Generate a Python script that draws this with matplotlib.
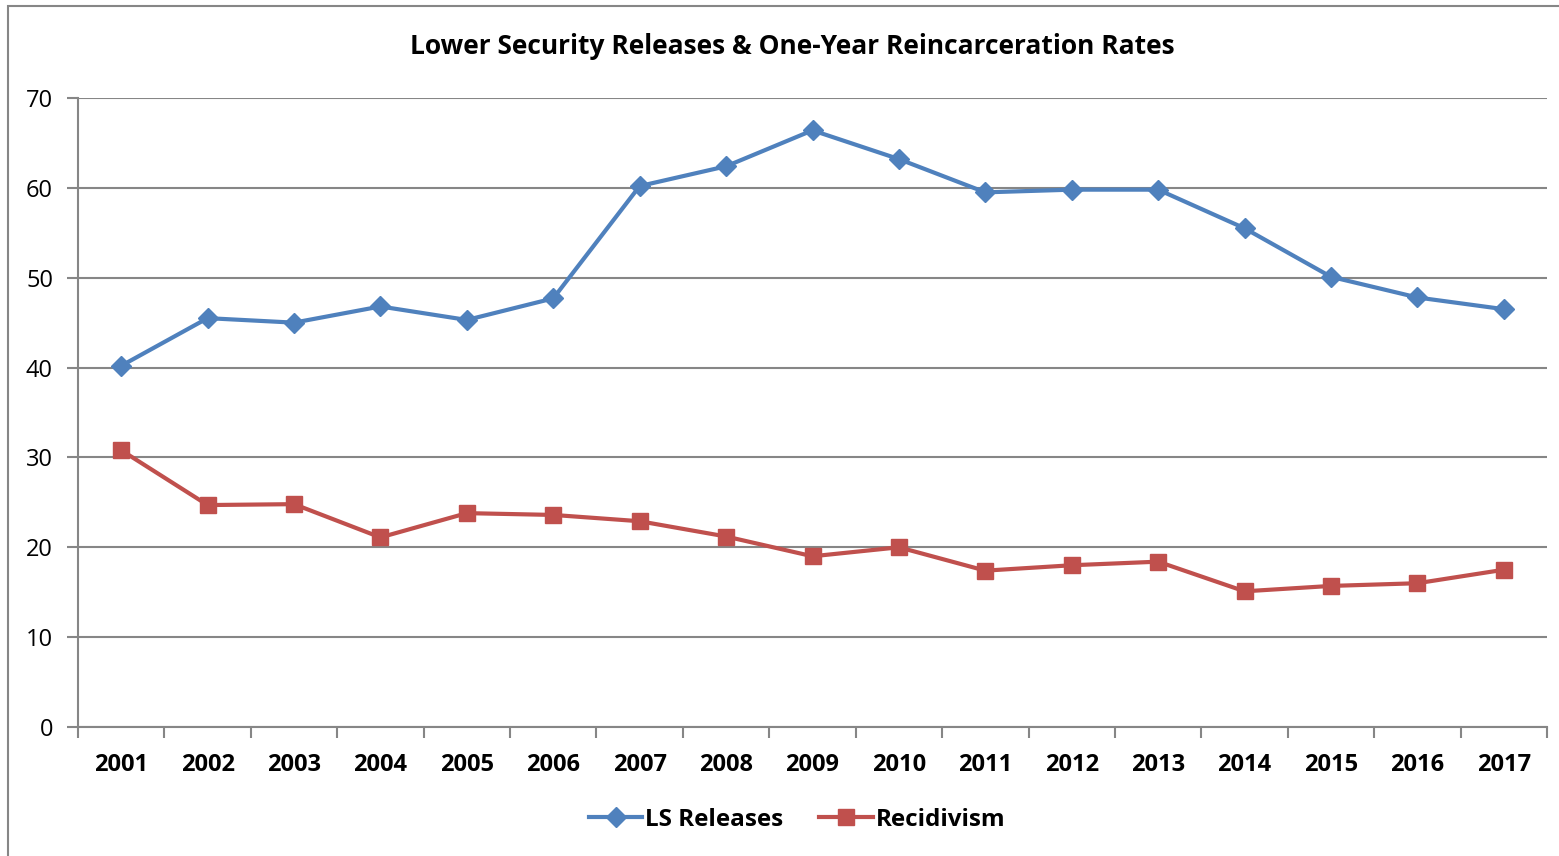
import matplotlib.pyplot as plt
from matplotlib.patches import Rectangle

years = [str(y) for y in range(2001, 2018)]
ls_releases = [40.2, 45.5, 45.0, 46.8, 45.3, 47.7, 60.2, 62.4, 66.4, 63.2,
               59.5, 59.8, 59.8, 55.5, 50.1, 47.8, 46.5]
recidivism = [30.8, 24.7, 24.8, 21.1, 23.8, 23.6, 22.9, 21.2, 19.0, 20.0,
              17.4, 18.0, 18.4, 15.1, 15.7, 16.0, 17.5]

plt.rcParams['font.family'] = ['Open Sans', 'DejaVu Sans']
grey = '#868686'

fig = plt.figure(figsize=(15.59, 8.56), dpi=100)
# outer chart frame (clipped by image edge on right/bottom)
fig.patches.append(Rectangle((8 / 1559, -0.1), 1.2, (856 - 6) / 856 + 0.1,
                             transform=fig.transFigure, fill=False,
                             edgecolor=grey, linewidth=1.5))

ax = fig.add_axes([78 / 1559, 1 - 727 / 856, (1547 - 78) / 1559, (727 - 98) / 856])
x = list(range(len(years)))
ax.plot(x, ls_releases, color='#4F81BD', lw=3, marker='D', markersize=10,
        label='LS Releases', zorder=3)
ax.plot(x, recidivism, color='#C0504D', lw=3, marker='s', markersize=11,
        label='Recidivism', zorder=3)

ax.set_xlim(-0.5, len(years) - 0.5)
ax.set_ylim(0, 70)
ax.set_yticks(range(0, 71, 10))
ax.yaxis.grid(True, color=grey, lw=1.5)
ax.set_axisbelow(True)

ax.set_xticks(x)
ax.set_xticklabels(years, fontsize=17, fontweight='bold')
ax.set_xticks([i + 0.5 for i in range(-1, len(years))], minor=True)
ax.tick_params(axis='x', which='major', length=0, pad=19)
ax.tick_params(axis='x', which='minor', length=8, color=grey, width=1.5, direction='out')
ax.tick_params(axis='y', length=8, color=grey, width=1.5, labelsize=17, pad=10)

for s in ['top', 'right']:
    ax.spines[s].set_visible(False)
for s in ['left', 'bottom']:
    ax.spines[s].set_color(grey)
    ax.spines[s].set_linewidth(1.5)

fig.text(792 / 1559, 1 - 47 / 856, 'Lower Security Releases & One-Year Reincarceration Rates',
         ha='center', va='center', fontsize=19, fontweight='bold')

fig.legend(loc='center', bbox_to_anchor=(797 / 1559, 1 - 820 / 856), ncol=2,
           frameon=False, prop={'size': 17.5, 'weight': 'bold'},
           handlelength=2.2, handletextpad=0.1, columnspacing=1.5)

fig.savefig('out.png', dpi=100)
